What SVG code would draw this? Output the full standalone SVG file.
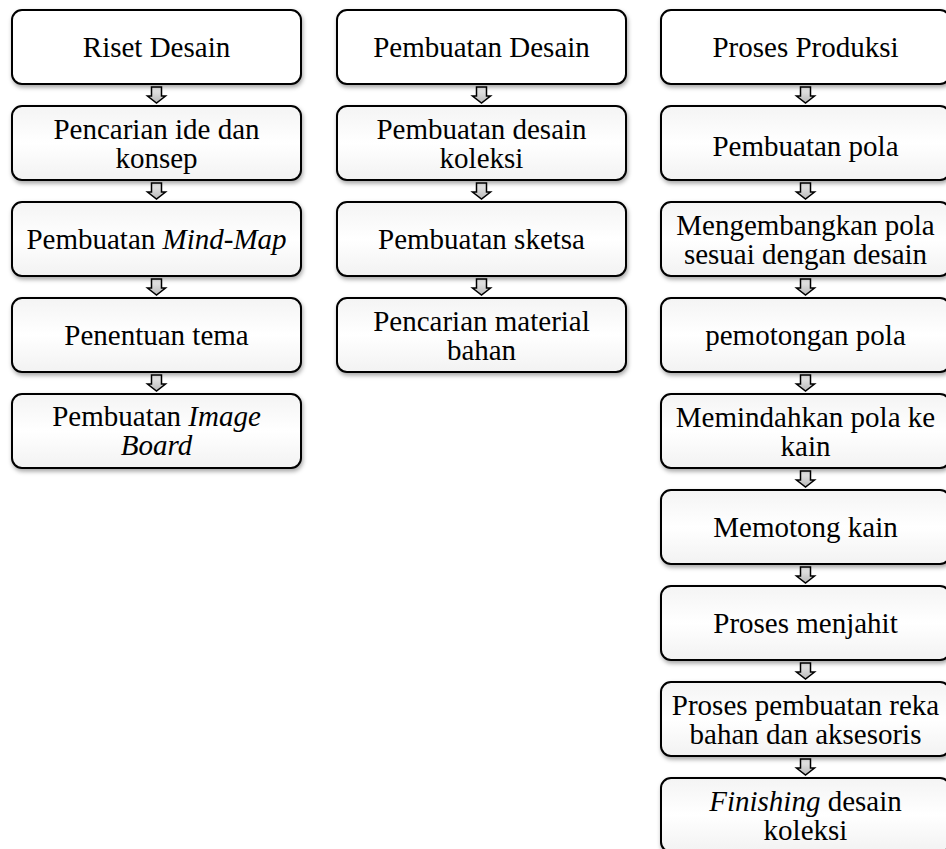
<svg xmlns="http://www.w3.org/2000/svg" width="946" height="849" viewBox="0 0 946 849">
<defs>
<linearGradient id="g" x1="0" y1="0" x2="0" y2="1">
<stop offset="0" stop-color="#f4f4f4"/><stop offset="0.5" stop-color="#ffffff"/><stop offset="1" stop-color="#f2f2f2"/>
</linearGradient>
<linearGradient id="ag" x1="0" y1="0" x2="0" y2="1">
<stop offset="0" stop-color="#f0f0f0"/><stop offset="1" stop-color="#b8b8b8"/>
</linearGradient>
<filter id="sh" x="-5%" y="-10%" width="112%" height="130%">
<feDropShadow dx="1" dy="2.5" stdDeviation="2" flood-color="#000" flood-opacity="0.35"/>
</filter>
<path id="arr" d="M-5,0 H5 V9 H9 L0,16 L-9,9 H-5 Z"/>
</defs>
<style>
.b{fill:url(#g);stroke:#000;stroke-width:2;filter:url(#sh)}
.h{fill:#fff}
.t{font-family:"Liberation Serif","Times New Roman",serif;font-size:29px;fill:#000;text-anchor:middle}
.i{font-style:italic}
.a{fill:url(#ag);stroke:#000;stroke-width:1.5;stroke-linejoin:miter}
</style>
<g id="connectors">
<use href="#arr" class="a" x="156.5" y="87"/>
<use href="#arr" class="a" x="156.5" y="183"/>
<use href="#arr" class="a" x="156.5" y="279"/>
<use href="#arr" class="a" x="156.5" y="375"/>
<use href="#arr" class="a" x="481.5" y="87"/>
<use href="#arr" class="a" x="481.5" y="183"/>
<use href="#arr" class="a" x="481.5" y="279"/>
<use href="#arr" class="a" x="805.5" y="87"/>
<use href="#arr" class="a" x="805.5" y="183"/>
<use href="#arr" class="a" x="805.5" y="279"/>
<use href="#arr" class="a" x="805.5" y="375"/>
<use href="#arr" class="a" x="805.5" y="471"/>
<use href="#arr" class="a" x="805.5" y="567"/>
<use href="#arr" class="a" x="805.5" y="663"/>
<use href="#arr" class="a" x="805.5" y="759"/>
</g>
<g id="c1n1"><rect class="b h" x="12" y="10" width="289" height="74" rx="10"/><text class="t" x="156.5" y="57">Riset Desain</text></g>
<g id="c1n2"><rect class="b" x="12" y="106" width="289" height="74" rx="10"/><text class="t" x="156.5" y="139">Pencarian ide dan</text><text class="t" x="156.5" y="168">konsep</text></g>
<g id="c1n3"><rect class="b" x="12" y="202" width="289" height="74" rx="10"/><text class="t" x="156.5" y="249">Pembuatan <tspan class="i">Mind-Map</tspan></text></g>
<g id="c1n4"><rect class="b" x="12" y="298" width="289" height="74" rx="10"/><text class="t" x="156.5" y="345">Penentuan tema</text></g>
<g id="c1n5"><rect class="b" x="12" y="394" width="289" height="74" rx="10"/><text class="t" x="156.5" y="426">Pembuatan <tspan class="i">Image</tspan></text><text class="t i" x="156.5" y="455">Board</text></g>

<g id="c2n1"><rect class="b h" x="337" y="10" width="289" height="74" rx="10"/><text class="t" x="481.5" y="57">Pembuatan Desain</text></g>
<g id="c2n2"><rect class="b" x="337" y="106" width="289" height="74" rx="10"/><text class="t" x="481.5" y="139">Pembuatan desain</text><text class="t" x="481.5" y="168">koleksi</text></g>
<g id="c2n3"><rect class="b" x="337" y="202" width="289" height="74" rx="10"/><text class="t" x="481.5" y="249">Pembuatan sketsa</text></g>
<g id="c2n4"><rect class="b" x="337" y="298" width="289" height="74" rx="10"/><text class="t" x="481.5" y="331">Pencarian material</text><text class="t" x="481.5" y="360">bahan</text></g>

<g id="c3n1"><rect class="b h" x="661" y="10" width="289" height="74" rx="10"/><text class="t" x="805.5" y="57">Proses Produksi</text></g>
<g id="c3n2"><rect class="b" x="661" y="106" width="289" height="74" rx="10"/><text class="t" x="805.5" y="156">Pembuatan pola</text></g>
<g id="c3n3"><rect class="b" x="661" y="202" width="289" height="74" rx="10"/><text class="t" x="805.5" y="235">Mengembangkan pola</text><text class="t" x="805.5" y="264">sesuai dengan desain</text></g>
<g id="c3n4"><rect class="b" x="661" y="298" width="289" height="74" rx="10"/><text class="t" x="805.5" y="345">pemotongan pola</text></g>
<g id="c3n5"><rect class="b" x="661" y="394" width="289" height="74" rx="10"/><text class="t" x="805.5" y="427">Memindahkan pola ke</text><text class="t" x="805.5" y="456">kain</text></g>
<g id="c3n6"><rect class="b" x="661" y="490" width="289" height="74" rx="10"/><text class="t" x="805.5" y="537">Memotong kain</text></g>
<g id="c3n7"><rect class="b" x="661" y="586" width="289" height="74" rx="10"/><text class="t" x="805.5" y="633">Proses menjahit</text></g>
<g id="c3n8"><rect class="b" x="661" y="682" width="289" height="74" rx="10"/><text class="t" x="805.5" y="715">Proses pembuatan reka</text><text class="t" x="805.5" y="744">bahan dan aksesoris</text></g>
<g id="c3n9"><rect class="b" x="661" y="778" width="289" height="74" rx="10"/><text class="t" x="805.5" y="811"><tspan class="i">Finishing</tspan> desain</text><text class="t" x="805.5" y="840">koleksi</text></g>
</svg>
